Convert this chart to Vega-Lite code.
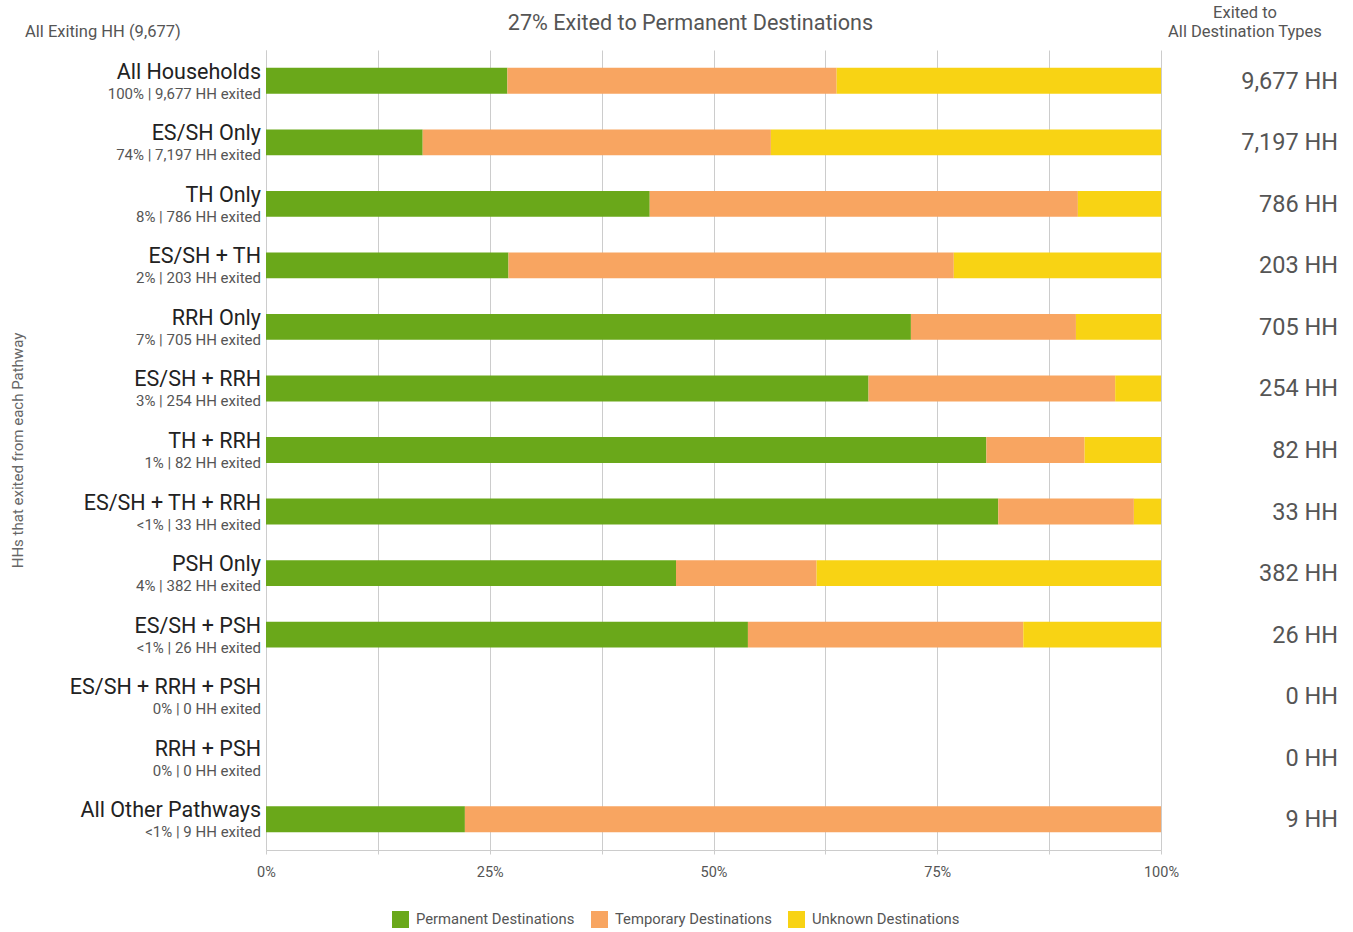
{
  "$schema": "https://vega.github.io/schema/vega-lite/v6.json",
  "width": 895,
  "height": 800,
  "autosize": {"type": "none"},
  "padding": {"left": 266, "top": 50, "right": 192, "bottom": 82},
  "background": "white",
  "config": {"font": "Roboto", "view": {"stroke": null}},
  "datasets": {
    "bars": [
      {"pathway": "All Households", "type": "Permanent Destinations", "count": 2610},
      {"pathway": "All Households", "type": "Temporary Destinations", "count": 3560},
      {"pathway": "All Households", "type": "Unknown Destinations", "count": 3507},
      {"pathway": "ES/SH Only", "type": "Permanent Destinations", "count": 1260},
      {"pathway": "ES/SH Only", "type": "Temporary Destinations", "count": 2800},
      {"pathway": "ES/SH Only", "type": "Unknown Destinations", "count": 3137},
      {"pathway": "TH Only", "type": "Permanent Destinations", "count": 337},
      {"pathway": "TH Only", "type": "Temporary Destinations", "count": 376},
      {"pathway": "TH Only", "type": "Unknown Destinations", "count": 73},
      {"pathway": "ES/SH + TH", "type": "Permanent Destinations", "count": 55},
      {"pathway": "ES/SH + TH", "type": "Temporary Destinations", "count": 101},
      {"pathway": "ES/SH + TH", "type": "Unknown Destinations", "count": 47},
      {"pathway": "RRH Only", "type": "Permanent Destinations", "count": 508},
      {"pathway": "RRH Only", "type": "Temporary Destinations", "count": 130},
      {"pathway": "RRH Only", "type": "Unknown Destinations", "count": 67},
      {"pathway": "ES/SH + RRH", "type": "Permanent Destinations", "count": 171},
      {"pathway": "ES/SH + RRH", "type": "Temporary Destinations", "count": 70},
      {"pathway": "ES/SH + RRH", "type": "Unknown Destinations", "count": 13},
      {"pathway": "TH + RRH", "type": "Permanent Destinations", "count": 66},
      {"pathway": "TH + RRH", "type": "Temporary Destinations", "count": 9},
      {"pathway": "TH + RRH", "type": "Unknown Destinations", "count": 7},
      {"pathway": "ES/SH + TH + RRH", "type": "Permanent Destinations", "count": 27},
      {"pathway": "ES/SH + TH + RRH", "type": "Temporary Destinations", "count": 5},
      {"pathway": "ES/SH + TH + RRH", "type": "Unknown Destinations", "count": 1},
      {"pathway": "PSH Only", "type": "Permanent Destinations", "count": 175},
      {"pathway": "PSH Only", "type": "Temporary Destinations", "count": 60},
      {"pathway": "PSH Only", "type": "Unknown Destinations", "count": 147},
      {"pathway": "ES/SH + PSH", "type": "Permanent Destinations", "count": 14},
      {"pathway": "ES/SH + PSH", "type": "Temporary Destinations", "count": 8},
      {"pathway": "ES/SH + PSH", "type": "Unknown Destinations", "count": 4},
      {"pathway": "ES/SH + RRH + PSH", "type": "Permanent Destinations", "count": 0},
      {"pathway": "ES/SH + RRH + PSH", "type": "Temporary Destinations", "count": 0},
      {"pathway": "ES/SH + RRH + PSH", "type": "Unknown Destinations", "count": 0},
      {"pathway": "RRH + PSH", "type": "Permanent Destinations", "count": 0},
      {"pathway": "RRH + PSH", "type": "Temporary Destinations", "count": 0},
      {"pathway": "RRH + PSH", "type": "Unknown Destinations", "count": 0},
      {"pathway": "All Other Pathways", "type": "Permanent Destinations", "count": 2},
      {"pathway": "All Other Pathways", "type": "Temporary Destinations", "count": 7},
      {"pathway": "All Other Pathways", "type": "Unknown Destinations", "count": 0}
    ],
    "rows": [
      {"pathway": "All Households", "sub": "100% | 9,677 HH exited", "total": "9,677 HH"},
      {"pathway": "ES/SH Only", "sub": "74% | 7,197 HH exited", "total": "7,197 HH"},
      {"pathway": "TH Only", "sub": "8% | 786 HH exited", "total": "786 HH"},
      {"pathway": "ES/SH + TH", "sub": "2% | 203 HH exited", "total": "203 HH"},
      {"pathway": "RRH Only", "sub": "7% | 705 HH exited", "total": "705 HH"},
      {"pathway": "ES/SH + RRH", "sub": "3% | 254 HH exited", "total": "254 HH"},
      {"pathway": "TH + RRH", "sub": "1% | 82 HH exited", "total": "82 HH"},
      {"pathway": "ES/SH + TH + RRH", "sub": "<1% | 33 HH exited", "total": "33 HH"},
      {"pathway": "PSH Only", "sub": "4% | 382 HH exited", "total": "382 HH"},
      {"pathway": "ES/SH + PSH", "sub": "<1% | 26 HH exited", "total": "26 HH"},
      {"pathway": "ES/SH + RRH + PSH", "sub": "0% | 0 HH exited", "total": "0 HH"},
      {"pathway": "RRH + PSH", "sub": "0% | 0 HH exited", "total": "0 HH"},
      {"pathway": "All Other Pathways", "sub": "<1% | 9 HH exited", "total": "9 HH"}
    ]
  },
  "layer": [
    {
      "data": {"name": "bars"},
      "mark": {"type": "bar"},
      "encoding": {
        "y": {
          "field": "pathway", "type": "nominal",
          "sort": ["All Households", "ES/SH Only", "TH Only", "ES/SH + TH", "RRH Only", "ES/SH + RRH", "TH + RRH", "ES/SH + TH + RRH", "PSH Only", "ES/SH + PSH", "ES/SH + RRH + PSH", "RRH + PSH", "All Other Pathways"],
          "scale": {"paddingInner": 0.58, "paddingOuter": 0.29},
          "axis": {"labels": false, "ticks": false, "domain": true, "domainColor": "#cccccc", "title": "HHs that exited from each Pathway", "titlePadding": 241, "titleFontSize": 15, "titleFontWeight": "normal", "titleColor": "#666666", "titleFont": "Roboto"}
        },
        "x": {
          "field": "count", "type": "quantitative", "stack": "normalize",
          "scale": {"domain": [0, 1]},
          "axis": {"title": null, "values": [0, 0.125, 0.25, 0.375, 0.5, 0.625, 0.75, 0.875, 1], "labelExpr": "(datum.value * 100) % 25 == 0 ? format(datum.value, '.0%') : ''", "labelFlush": false, "grid": true, "gridColor": "#cccccc", "domainColor": "#cccccc", "tickColor": "#cccccc", "tickSize": 4, "labelFontSize": 14.5, "labelColor": "#555555", "labelPadding": 11, "labelFont": "Roboto"}
        },
        "color": {
          "field": "type", "type": "nominal",
          "scale": {"domain": ["Permanent Destinations", "Temporary Destinations", "Unknown Destinations"], "range": ["#6aa81a", "#f8a561", "#f8d314"]},
          "legend": {"title": null, "orient": "none", "direction": "horizontal", "legendX": 126, "legendY": 861, "symbolType": "square", "symbolSize": 289, "symbolStrokeWidth": 0, "labelFontSize": 14.8, "labelLimit": 400, "labelColor": "#555555", "labelFont": "Roboto", "labelOffset": 7, "columnPadding": 16}
        }
      }
    },
    {
      "data": {"name": "rows"},
      "mark": {"type": "text", "align": "right", "baseline": "middle", "dx": -5, "dy": -8, "fontSize": 21.5, "color": "#222222", "font": "Roboto"},
      "encoding": {
        "y": {"field": "pathway", "type": "nominal", "sort": ["All Households", "ES/SH Only", "TH Only", "ES/SH + TH", "RRH Only", "ES/SH + RRH", "TH + RRH", "ES/SH + TH + RRH", "PSH Only", "ES/SH + PSH", "ES/SH + RRH + PSH", "RRH + PSH", "All Other Pathways"]},
        "x": {"datum": 0, "type": "quantitative"},
        "text": {"field": "pathway"}
      }
    },
    {
      "data": {"name": "rows"},
      "mark": {"type": "text", "align": "right", "baseline": "middle", "dx": -5, "dy": 13, "fontSize": 15, "color": "#555555", "font": "Roboto"},
      "encoding": {
        "y": {"field": "pathway", "type": "nominal", "sort": ["All Households", "ES/SH Only", "TH Only", "ES/SH + TH", "RRH Only", "ES/SH + RRH", "TH + RRH", "ES/SH + TH + RRH", "PSH Only", "ES/SH + PSH", "ES/SH + RRH + PSH", "RRH + PSH", "All Other Pathways"]},
        "x": {"datum": 0, "type": "quantitative"},
        "text": {"field": "sub"}
      }
    },
    {
      "data": {"name": "rows"},
      "mark": {"type": "text", "align": "right", "baseline": "middle", "dx": 177, "dy": 1, "fontSize": 23.5, "color": "#555555", "font": "Roboto"},
      "encoding": {
        "y": {"field": "pathway", "type": "nominal", "sort": ["All Households", "ES/SH Only", "TH Only", "ES/SH + TH", "RRH Only", "ES/SH + RRH", "TH + RRH", "ES/SH + TH + RRH", "PSH Only", "ES/SH + PSH", "ES/SH + RRH + PSH", "RRH + PSH", "All Other Pathways"]},
        "x": {"datum": 1, "type": "quantitative"},
        "text": {"field": "total"}
      }
    },
    {
      "data": {"values": [{"pathway": "All Households", "label": "All Exiting HH (9,677)"}]},
      "mark": {"type": "text", "align": "left", "baseline": "middle", "dx": -241, "dy": -49, "fontSize": 16.5, "color": "#555555", "font": "Roboto"},
      "encoding": {
        "y": {"field": "pathway", "type": "nominal", "sort": ["All Households", "ES/SH Only", "TH Only", "ES/SH + TH", "RRH Only", "ES/SH + RRH", "TH + RRH", "ES/SH + TH + RRH", "PSH Only", "ES/SH + PSH", "ES/SH + RRH + PSH", "RRH + PSH", "All Other Pathways"]},
        "x": {"datum": 0, "type": "quantitative"},
        "text": {"field": "label"}
      }
    },
    {
      "data": {"values": [{"pathway": "All Households", "label": "27% Exited to Permanent Destinations"}]},
      "mark": {"type": "text", "align": "center", "baseline": "middle", "dx": -23, "dy": -57, "fontSize": 21.6, "color": "#555555", "font": "Roboto"},
      "encoding": {
        "y": {"field": "pathway", "type": "nominal", "sort": ["All Households", "ES/SH Only", "TH Only", "ES/SH + TH", "RRH Only", "ES/SH + RRH", "TH + RRH", "ES/SH + TH + RRH", "PSH Only", "ES/SH + PSH", "ES/SH + RRH + PSH", "RRH + PSH", "All Other Pathways"]},
        "x": {"datum": 0.5, "type": "quantitative"},
        "text": {"field": "label"}
      }
    },
    {
      "data": {"values": [{"pathway": "All Households", "label": ["Exited to", "All Destination Types"]}]},
      "mark": {"type": "text", "align": "center", "baseline": "bottom", "dx": 84, "dy": -60, "fontSize": 16.5, "lineHeight": 19, "color": "#555555", "font": "Roboto"},
      "encoding": {
        "y": {"field": "pathway", "type": "nominal", "sort": ["All Households", "ES/SH Only", "TH Only", "ES/SH + TH", "RRH Only", "ES/SH + RRH", "TH + RRH", "ES/SH + TH + RRH", "PSH Only", "ES/SH + PSH", "ES/SH + RRH + PSH", "RRH + PSH", "All Other Pathways"]},
        "x": {"datum": 1, "type": "quantitative"},
        "text": {"field": "label"}
      }
    }
  ]
}
